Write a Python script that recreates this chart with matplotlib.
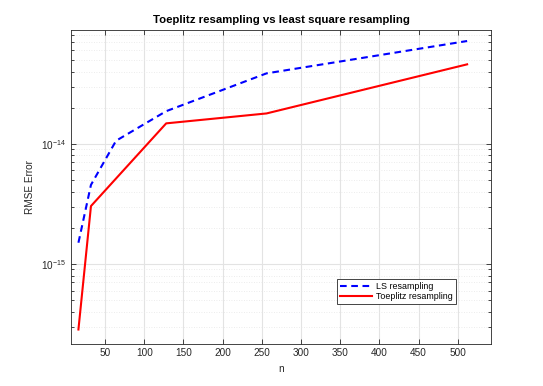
import matplotlib
matplotlib.use("Agg")
import matplotlib.pyplot as plt
from matplotlib.ticker import LogLocator, NullFormatter, MultipleLocator

plt.rcParams["font.family"] = ["Liberation Sans", "DejaVu Sans"]

# data
n = [16, 32, 64, 128, 256, 512]
ls_err = [1.50e-15, 4.55e-15, 1.06e-14, 1.87e-14, 3.86e-14, 7.18e-14]
toep_n = [16, 32, 128, 256, 512]
toep_err = [2.84e-16, 3.03e-15, 1.48e-14, 1.79e-14, 4.59e-14]
yticks = [1e-15, 1e-14]

TXT = "#262626"
GRID = "#e3e3e3"

fig = plt.figure(figsize=(5.43, 3.86), dpi=100)
ax = fig.add_axes([0.13, 0.11, 0.775, 0.812])

ax.semilogy(n, ls_err, "--", color="#0000ff", lw=1.5, dashes=(3.2, 2.2),
            label="LS resampling")
ax.semilogy(toep_n, toep_err, "-", color="#ff0000", lw=1.5,
            label="Toeplitz resampling")

ax.set_xlim(6, 543)
ax.set_ylim(2.17e-16, 8.85e-14)
ax.xaxis.set_major_locator(MultipleLocator(50))
ax.set_yticks(yticks)
ax.yaxis.set_minor_locator(LogLocator(base=10, subs=range(2, 10), numticks=20))
ax.yaxis.set_minor_formatter(NullFormatter())

ax.grid(True, which="major", color=GRID, lw=0.8)
ax.grid(True, which="minor", axis="y", color="#e6e6e6", lw=0.6, ls=(0, (1, 2)))
ax.set_axisbelow(True)

ax.tick_params(which="both", direction="in", top=True, right=True,
               colors=TXT, labelsize=7.2, width=0.6)
ax.tick_params(which="major", length=3.5)
ax.tick_params(which="minor", length=2)
for s in ax.spines.values():
    s.set_color(TXT)
    s.set_linewidth(0.6)

ax.set_title("Toeplitz resampling vs least square resampling",
             fontsize=8.2, fontweight="bold", color="black", pad=5)
ax.set_xlabel("n", fontsize=7.2, color=TXT)
ax.set_ylabel("RMSE Error", fontsize=7.2, color=TXT)

leg = ax.legend(loc="lower right", bbox_to_anchor=(0.916, 0.125),
                borderaxespad=0, fontsize=6.4, handlelength=3.6,
                fancybox=False, framealpha=1, edgecolor=TXT,
                borderpad=0.35, labelspacing=0.15, handletextpad=0.5)
leg.get_frame().set_linewidth(0.6)

fig.savefig("out.png", dpi=100)
